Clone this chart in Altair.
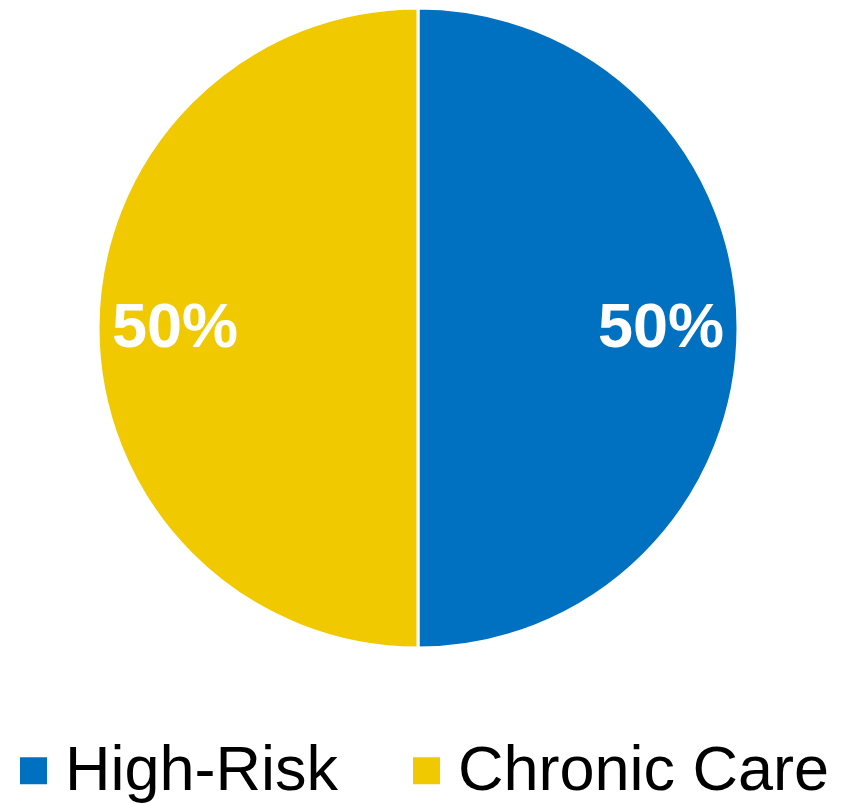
import altair as alt
import pandas as pd

categories = ["High-Risk", "Chronic Care"]
values = [50, 50]
labels = ["50%", "50%"]
order = [0, 1]
colors = ["#0070C0", "#F0C900"]

df = pd.DataFrame({"category": categories, "value": values, "label": labels, "order": order})

cx, cy, R = 410, 320, 320

base = alt.Chart(df).encode(
    theta=alt.Theta("value:Q", stack=True),
    order=alt.Order("order:Q"),
)

arcs = base.mark_arc(outerRadius=R, stroke="white", strokeWidth=3).encode(
    x=alt.value(cx),
    y=alt.value(cy),
    color=alt.Color(
        "category:N",
        scale=alt.Scale(domain=categories, range=colors),
        legend=alt.Legend(
            title=None,
            orient="none",
            legendX=-6,
            legendY=731,
            direction="horizontal",
            columns=2,
            symbolType="square",
            symbolSize=729,
            symbolStrokeWidth=0,
            labelFontSize=63,
            labelFont="Liberation Sans",
            labelColor="black",
            labelOffset=0,
            columnPadding=56,
            labelLimit=600,
            padding=0,
        ),
    ),
)

text = base.mark_text(
    radius=243,
    font="Liberation Sans",
    fontSize=63,
    fontWeight="bold",
    color="white",
    align="center",
    baseline="middle",
).encode(
    x=alt.value(cx),
    y=alt.value(cy),
    text="label:N",
)

chart = (
    (arcs + text)
    .properties(width=826, height=796, autosize=alt.AutoSizeParams(type="none"), padding=0)
    .configure_view(strokeWidth=0)
)

chart.save("out.html", embed_options={"renderer": "svg", "actions": False})
